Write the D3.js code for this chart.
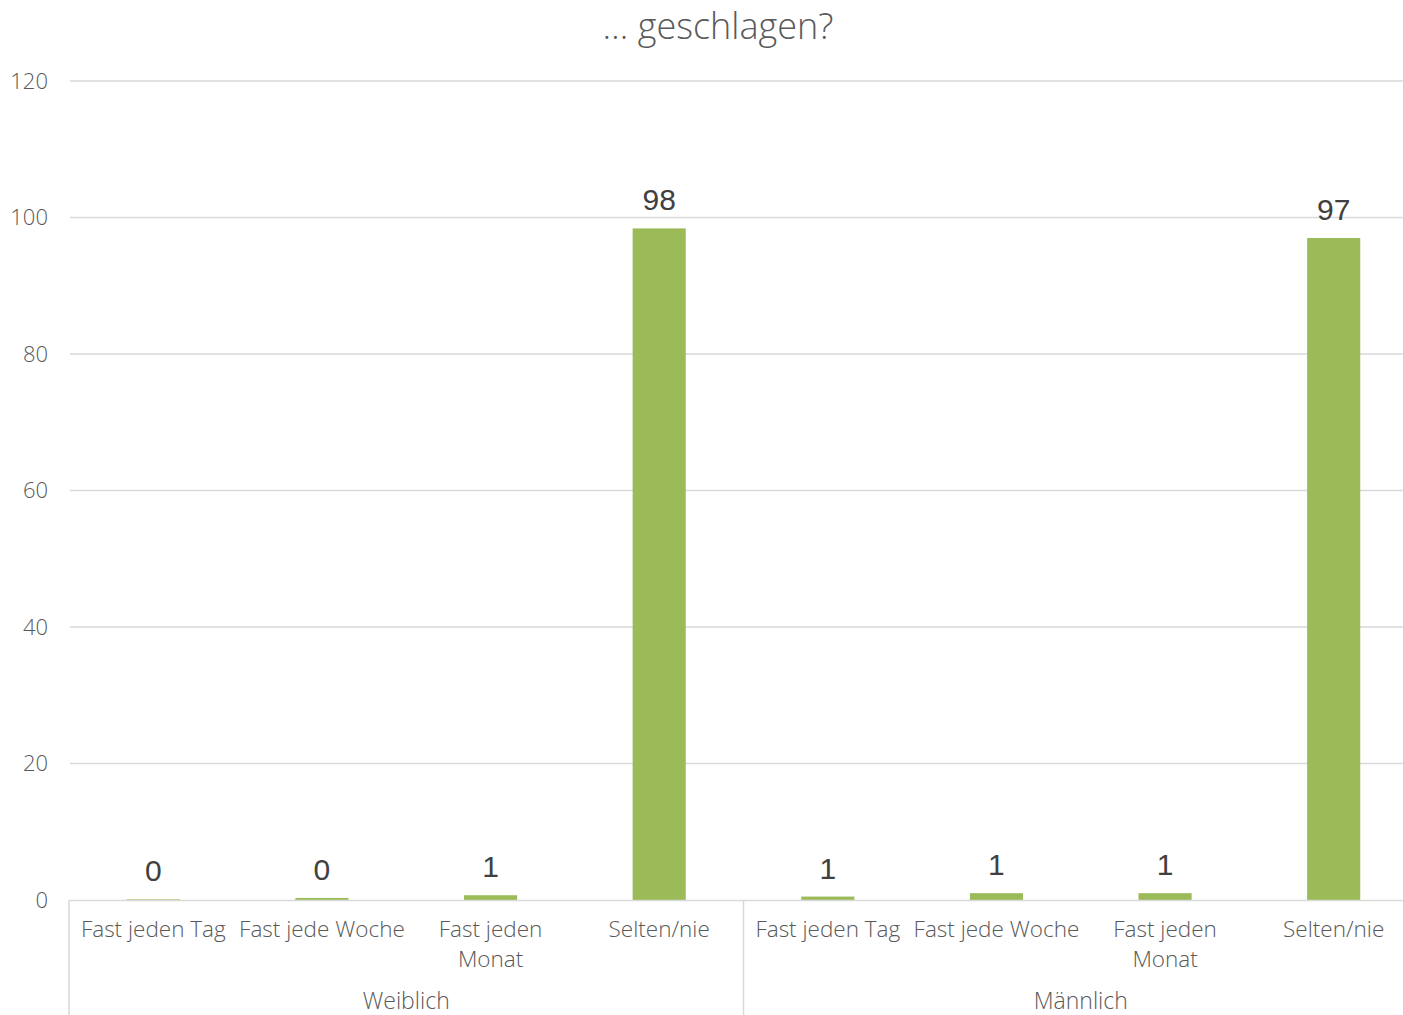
<!DOCTYPE html>
<html><head><meta charset="utf-8">
<script src="https://cdn.jsdelivr.net/npm/d3@7"></script>
<style>body{margin:0;background:#fff;overflow:hidden}</style>
</head><body>
<script>
const title = "… geschlagen?";
const groups = ["Weiblich", "Männlich"];
const categories = ["Fast jeden Tag", "Fast jede Woche", "Fast jeden Monat", "Selten/nie"];
const categoryLines = [["Fast jeden Tag"], ["Fast jede Woche"], ["Fast jeden", "Monat"], ["Selten/nie"]];
const weiblich = [0.1, 0.3, 0.7, 98.4];
const maennlich = [0.5, 1.0, 1.0, 97.0];
const yTicks = [0, 20, 40, 60, 80, 100, 120];

const W = 1403, H = 1015;
const svg = d3.select("body").append("svg").attr("width", W).attr("height", H);
const font = "'Open Sans', sans-serif";
const rows = [];
groups.forEach((g, gi) => categories.forEach((c, ci) => rows.push({g, gi, c, ci, v: gi === 0 ? weiblich[ci] : maennlich[ci], key: g + "|" + c})));

const x = d3.scaleBand().domain(rows.map(d => d.key)).range([69, 1418]).padding(0);
const y = d3.scaleLinear().domain([0, 120]).range([900, 81]);

// gridlines
svg.append("g").selectAll("line").data(yTicks.filter(t => t > 0)).join("line")
  .attr("x1", 70).attr("x2", W).attr("y1", d => y(d)).attr("y2", d => y(d))
  .attr("stroke", "#d9d9d9").attr("stroke-width", 1.5);

// y labels
svg.append("g").selectAll("text").data(yTicks).join("text")
  .attr("x", 48).attr("y", d => y(d)).attr("dy", "0.35em").attr("text-anchor", "end")
  .attr("font-family", font).attr("font-weight", 300).attr("font-size", 22).attr("fill", "#595959")
  .text(d => d);

// bars
const bw = x.bandwidth() * 0.315;
svg.append("g").selectAll("rect").data(rows).join("rect")
  .attr("x", d => x(d.key) + x.bandwidth() / 2 - bw / 2).attr("width", bw)
  .attr("y", d => y(d.v)).attr("height", d => y(0) - y(d.v))
  .attr("fill", "#9bbb59");

// axis line
svg.append("line").attr("x1", 69).attr("x2", W).attr("y1", 900.5).attr("y2", 900.5)
  .attr("stroke", "#d9d9d9").attr("stroke-width", 1.5);
// group separators
const seps = [x(rows[0].key), x(rows[4].key)];
svg.append("g").selectAll("line").data(seps).join("line")
  .attr("x1", d => d).attr("x2", d => d).attr("y1", 900).attr("y2", H)
  .attr("stroke", "#d9d9d9").attr("stroke-width", 1.5);

// data labels
svg.append("g").selectAll("text").data(rows).join("text")
  .attr("x", d => x(d.key) + x.bandwidth() / 2).attr("y", d => y(d.v) - 18)
  .attr("text-anchor", "middle").attr("font-family", "'Liberation Sans', Arial, sans-serif")
  .attr("font-size", 30).attr("fill", "#404040")
  .text(d => d3.format(".0f")(d.v));

// category labels (one text element per line)
const lineData = [];
rows.forEach(d => categoryLines[d.ci].forEach((t, i) => lineData.push({t, i, cx: x(d.key) + x.bandwidth() / 2})));
svg.append("g").selectAll("text").data(lineData).join("text")
  .attr("x", d => d.cx).attr("y", d => 937 + d.i * 30)
  .attr("text-anchor", "middle").attr("font-family", font).attr("font-weight", 300)
  .attr("font-size", 22.5).attr("fill", "#595959").text(d => d.t);

// group labels
svg.append("g").selectAll("text").data(groups).join("text")
  .attr("x", (g, i) => (x(rows[i * 4].key) + x(rows[i * 4 + 3].key) + x.bandwidth()) / 2)
  .attr("y", 1009).attr("text-anchor", "middle").attr("font-family", font).attr("font-weight", 300)
  .attr("font-size", 23).attr("fill", "#595959").text(d => d);

// title
svg.append("text").attr("x", 718).attr("y", 39).attr("text-anchor", "middle")
  .attr("font-family", font).attr("font-weight", 300).attr("font-size", 36).attr("fill", "#595959")
  .text(title);
</script>
</body></html>
